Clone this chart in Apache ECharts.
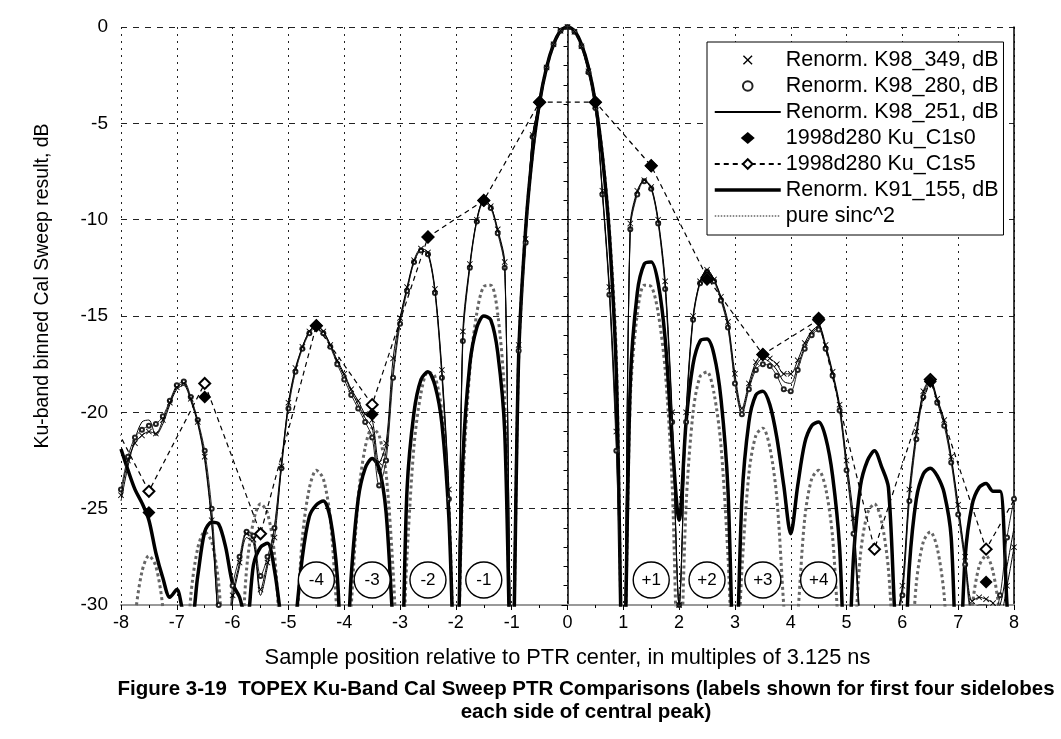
<!DOCTYPE html>
<html>
<head>
<meta charset="utf-8">
<script src="https://cdn.jsdelivr.net/npm/echarts@6/dist/echarts.min.js"></script>
<style>
  html, body { margin: 0; padding: 0; background: #fff; }
  #chart { width: 1061px; height: 739px; }
</style>
</head>
<body>
<div id="chart"></div>
<script>
// sample grid: -8 .. 8 in steps of 1/8 sample (129 points)
var xs = [];
for (var i = 0; i <= 128; i++) xs.push(-8 + i * 0.125);

// one row per sample unit, 8 values each, last value is x = 8
var k98_349 = [
  -24.3, -22.5, -21.6, -21.2, -21.0, -21.1, -20.4, -19.5,
  -18.7, -18.5, -19.3, -20.5, -22.3, -25.6, -31, -34,
  -29.5, -27.8, -26.3, -26.6, -29.2, -27.8, -26.5, -22.8,
  -19.5, -17.7, -16.6, -15.8, -15.5, -15.8, -16.5, -17.3,
  -18.0, -18.8, -19.4, -20.1, -20.4, -22.6, -21.6, -17.2,
  -15.1, -13.5, -12.1, -11.5, -11.7, -13.6, -17.8, -24.0,
  -35, -15.8, -12.3, -10.0, -9.0, -9.3, -10.5, -12.2,
  -33, -16.5, -11.0, -5.6, -3.9, -2.1, -0.9, -0.2,
  0, -0.25, -1.0, -2.3, -4.1, -8.5, -13.5, -21,
  -33, -10.2, -8.5, -7.95, -8.3, -10.0, -13.2, -20.0,
  -30, -20.0, -15.0, -13.2, -12.6, -13.1, -14.0, -15.3,
  -18.0, -19.8, -18.5, -17.4, -17.0, -17.2, -17.5, -18.0,
  -18.0, -17.3, -16.4, -15.8, -15.5, -16.5, -17.9, -19.6,
  -22.5, -25.5, -31, -34, -35, -34, -33, -31,
  -29, -24.0, -21.0, -18.9, -18.3, -19.3, -20.4, -22.3,
  -24.8, -27.5, -29.8, -29.6, -29.7, -29.9, -30.5, -29.0,
  -27.0
];
var k98_280 = [
  -24.0, -22.3, -21.3, -20.9, -20.7, -20.6, -20.2, -19.4,
  -18.6, -18.4, -19.2, -20.4, -22.0, -25.0, -30, -33,
  -29, -27.5, -26.2, -26.4, -28.5, -27.5, -26.0, -22.9,
  -19.8, -17.9, -16.7, -15.9, -15.6, -15.9, -16.6, -17.5,
  -18.3, -19.1, -19.8, -20.5, -21.3, -23.8, -22.5, -18.2,
  -15.4, -13.7, -12.2, -11.6, -11.8, -13.8, -18.2, -24.5,
  -35, -16.3, -12.5, -10.1, -9.1, -9.4, -10.7, -12.5,
  -33, -16.8, -11.2, -5.7, -3.95, -2.1, -0.9, -0.2,
  0, -0.25, -1.0, -2.35, -4.2, -8.7, -13.9, -22,
  -33, -10.5, -8.7, -8.0, -8.4, -10.2, -13.6, -20.5,
  -30, -20.5, -15.2, -13.3, -12.7, -13.2, -14.2, -15.6,
  -18.5, -20.1, -18.8, -17.8, -17.5, -17.6, -18.1, -18.8,
  -18.9, -17.8, -16.7, -16.0, -15.7, -16.7, -18.1, -19.9,
  -23.0, -26.3, -31.5, -34, -35, -34, -33, -31,
  -29.5, -24.6, -21.4, -19.2, -18.5, -19.5, -20.7, -22.6,
  -25.3, -27.9, -30.5, -30.5, -30.3, -30.5, -29.5, -26.5,
  -24.5
];
var k98_251 = [
  -24.6, -22.8, -21.4, -20.5, -20.4, -21.2, -20.6, -19.6,
  -18.8, -18.6, -19.4, -20.6, -22.5, -25.8, -31, -34,
  -29.8, -28.0, -26.5, -26.8, -29.5, -28.0, -25.9, -22.6,
  -19.6, -17.8, -16.6, -15.8, -15.5, -15.8, -16.5, -17.4,
  -18.1, -18.9, -19.6, -20.3, -20.8, -23.2, -22.0, -17.9,
  -15.2, -13.6, -12.2, -11.6, -11.8, -13.7, -18.0, -24.2,
  -35, -16.1, -12.4, -10.0, -9.0, -9.3, -10.6, -12.4,
  -33, -16.6, -11.1, -5.65, -3.9, -2.1, -0.9, -0.2,
  0, -0.25, -1.0, -2.3, -4.15, -8.6, -13.7, -21.5,
  -33, -10.4, -8.6, -7.95, -8.35, -10.1, -13.4, -20.3,
  -30, -20.2, -15.1, -13.2, -12.6, -13.1, -14.1, -15.5,
  -18.3, -20.0, -18.7, -17.6, -17.2, -17.4, -17.8, -18.4,
  -18.5, -17.6, -16.6, -15.9, -15.6, -16.6, -18.0, -19.8,
  -22.8, -26.0, -31.2, -34, -35, -34, -33, -31,
  -29.2, -24.3, -21.2, -19.0, -18.4, -19.4, -20.5, -22.4,
  -25.0, -27.7, -30.2, -30.0, -30.0, -30.2, -30.0, -28.0,
  -26.0
];
var k91_155 = [
  -21.9, -23.0, -24.0, -24.7, -25.6, -27.3, -28.6, -29.6,
  -29.2, -30.5, -31, -28.5, -26.2, -25.7, -25.8, -27.0,
  -28.9, -29.6, -31, -27.9, -27.0, -26.8, -28.2, -31,
  -35, -31, -27.5, -25.4, -24.8, -24.6, -25.5, -28.5,
  -35, -28.5, -24.5, -22.9, -22.4, -22.9, -25.2, -31,
  -35, -24.0, -20.0, -18.3, -17.9, -18.6, -20.6, -25.5,
  -35, -22.5, -17.5, -15.6, -15.0, -15.2, -16.9, -21.0,
  -35, -17.1, -10.5, -6.5, -3.9, -2.1, -0.9, -0.2,
  0, -0.2, -0.9, -2.1, -3.95, -6.7, -10.8, -18.0,
  -35, -18.5, -13.8, -12.3, -12.2, -13.3, -16.2, -21.5,
  -25.6, -20.5, -17.5, -16.3, -16.2, -17.0, -19.3, -24.0,
  -35, -24.5, -20.5, -19.1, -18.9, -19.6, -21.3, -23.8,
  -26.3, -23.8, -21.6, -20.7, -20.5, -21.3, -23.3, -27.0,
  -35, -27.5, -23.8, -22.5, -22.0, -22.8, -23.9, -31,
  -35, -28.0, -24.5, -23.2, -22.9, -23.3, -24.2, -26.5,
  -35, -27.5, -24.8, -23.9, -23.7, -24.1, -24.1, -30,
  -35
];
var sinc2 = [
  -35, -36.2, -30.74, -28.28, -27.44, -27.99, -30.16, -35.3,
  -35, -35.0, -29.54, -27.05, -26.20, -26.72, -28.87, -34.03,
  -35, -33.67, -28.15, -25.63, -24.75, -25.24, -27.36, -32.48,
  -35, -32.05, -26.49, -23.93, -23.01, -23.45, -25.52, -30.59,
  -35, -30.05, -24.43, -21.82, -20.82, -21.20, -23.19, -28.18,
  -35, -27.46, -21.74, -19.01, -17.90, -18.14, -20.00, -24.83,
  -35, -23.75, -17.81, -14.85, -13.47, -13.40, -14.89, -19.31,
  -35, -17.13, -10.46, -6.55, -3.92, -2.11, -0.91, -0.22,
  0, -0.22, -0.91, -2.11, -3.92, -6.55, -10.46, -17.13,
  -35, -19.31, -14.89, -13.40, -13.47, -14.85, -17.81, -23.75,
  -35, -24.83, -20.00, -18.14, -17.90, -19.01, -21.74, -27.46,
  -35, -28.18, -23.19, -21.20, -20.82, -21.82, -24.43, -30.05,
  -35, -30.59, -25.52, -23.45, -23.01, -23.93, -26.49, -32.05,
  -35, -32.48, -27.36, -25.24, -24.75, -25.63, -28.15, -33.67,
  -35, -34.03, -28.87, -26.72, -26.20, -27.05, -29.54, -35.0,
  -35, -35.3, -30.16, -27.99, -27.44, -28.28, -30.74, -36.2,
  -35
];

// Cal sweep bins at half-sample positions
var binX = [-7.5, -6.5, -5.5, -4.5, -3.5, -2.5, -1.5, -0.5, 0.5, 1.5, 2.5, 3.5, 4.5, 5.5, 6.5, 7.5];
var c1s0 = [-25.2, -19.2, -31, -15.5, -20.1, -10.9, -9.0, -3.9, -3.9, -7.2, -13.1, -17.0, -15.1, -31, -18.4, -28.8];
var c1s5X = [-8.5, -7.5, -6.5, -5.5, -4.5, -3.5, -2.5, -1.5, -0.5, 0.5, 1.5, 2.5, 3.5, 4.5, 5.5, 6.5, 7.5, 8.5];
var c1s5 = [-18.5, -24.1, -18.5, -26.3, -15.5, -19.6, -10.9, -9.0, -3.9, -3.9, -7.2, -13.0, -17.0, -15.2, -27.1, -18.3, -27.1, -22];

// sidelobe tags
var lobeX = [-4.5, -3.5, -2.5, -1.5, 1.5, 2.5, 3.5, 4.5];
var lobeY = [-28.7, -28.7, -28.7, -28.7, -28.7, -28.7, -28.7, -28.7];
var lobeText = ['-4', '-3', '-2', '-1', '+1', '+2', '+3', '+4'];

var yTicks = ['0', '-5', '-10', '-15', '-20', '-25', '-30'];

function pairs(px, py) {
  return py.map(function (y, i) { return [px[i], y]; });
}

var FONT = '"Liberation Sans", Arial, sans-serif';
var xMark = 'path://M0,1L1,0L5,4L9,0L10,1L6,5L10,9L9,10L5,6L1,10L0,9L4,5Z';
// diamond centred in the 66x12 legend box, the two moves only set the bounds
var legendDiamond = 'path://M0,0M66,12M33,0L40,6L33,12L26,6Z';

var chart = echarts.init(document.getElementById('chart'));
chart.setOption({
  animation: false,
  backgroundColor: '#fff',
  textStyle: { fontFamily: FONT, color: '#000' },
  grid: { left: 121, right: 47, top: 27, bottom: 134 },
  legend: {
    orient: 'vertical',
    left: 707,
    top: 42,
    width: 298,
    itemWidth: 66,
    itemHeight: 12,
    itemGap: 4,
    padding: [7, 5, 8, 6],
    backgroundColor: '#fff',
    borderColor: '#000',
    borderWidth: 1,
    textStyle: { fontSize: 21.5, fontFamily: FONT, color: '#000' },
    data: [
      { name: 'Renorm. K98_349, dB', lineStyle: { opacity: 0 } },
      { name: 'Renorm. K98_280, dB', lineStyle: { opacity: 0 } },
      { name: 'Renorm. K98_251, dB', itemStyle: { opacity: 0 } },
      { name: '1998d280 Ku_C1s0', icon: legendDiamond },
      { name: '1998d280 Ku_C1s5' },
      { name: 'Renorm. K91_155, dB', itemStyle: { opacity: 0 }, lineStyle: { width: 3.5 } },
      { name: 'pure sinc^2', itemStyle: { opacity: 0 }, lineStyle: { width: 1.5 } }
    ]
  },
  xAxis: {
    type: 'value',
    min: -8, max: 8, interval: 1,
    name: 'Sample position relative to PTR center, in multiples of 3.125 ns',
    nameLocation: 'middle',
    nameGap: 42,
    nameTextStyle: { fontSize: 21.8, fontFamily: FONT, color: '#000' },
    axisLine: { onZero: false, lineStyle: { color: '#999', width: 2 } },
    axisTick: { show: true, length: 5, lineStyle: { color: '#000' } },
    minorTick: { show: true, splitNumber: 2, length: 3, lineStyle: { color: '#000' } },
    axisLabel: { fontSize: 18, color: '#000', margin: 9 },
    splitLine: { show: true, lineStyle: { color: '#222', type: [2, 5], width: 1 } }
  },
  yAxis: [{
    type: 'value',
    min: -30, max: 0, interval: 5,
    axisLine: { show: true, lineStyle: { color: '#000', width: 1.5 } },
    axisTick: { show: true, inside: false, length: 6, lineStyle: { color: '#000' } },
    minorTick: { show: true, splitNumber: 5, length: 4, lineStyle: { color: '#000' } },
    axisLabel: {
      fontSize: 19, color: '#000', margin: 13,
      formatter: function (v) { return yTicks[Math.round(-v / 5)]; }
    },
    splitLine: { show: true, lineStyle: { color: '#222', type: [6, 6], width: 1 } }
  }, {
    type: 'value',
    position: 'right',
    min: -30, max: 0, interval: 5,
    axisLine: { show: true, lineStyle: { color: '#000', width: 1.5 } },
    axisTick: { show: false },
    axisLabel: { show: false },
    splitLine: { show: false }
  }],
  graphic: [
    {
      type: 'text', x: 43, y: 286, rotation: Math.PI / 2,
      style: { text: 'Ku-band binned Cal Sweep result, dB', font: '19.5px ' + FONT, fill: '#000', textAlign: 'center', textVerticalAlign: 'middle' }
    },
    {
      type: 'text', x: 586, y: 689,
      style: { text: 'Figure 3-19  TOPEX Ku-Band Cal Sweep PTR Comparisons (labels shown for first four sidelobes', font: 'bold 20.5px ' + FONT, fill: '#000', textAlign: 'center', textVerticalAlign: 'middle' }
    },
    {
      type: 'text', x: 586, y: 712,
      style: { text: 'each side of central peak)', font: 'bold 20.5px ' + FONT, fill: '#000', textAlign: 'center', textVerticalAlign: 'middle' }
    }
  ],
  series: [
    {
      name: 'pure sinc^2', type: 'line', data: pairs(xs, sinc2),
      symbol: 'none', smooth: 0.3, z: 1,
      lineStyle: { color: '#666', width: 3, type: 'dotted' }, itemStyle: { color: '#666' }
    },
    {
      name: 'Renorm. K91_155, dB', type: 'line', data: pairs(xs, k91_155),
      symbol: 'none', smooth: 0.3, z: 2,
      lineStyle: { color: '#000', width: 3.5 }, itemStyle: { color: '#000' }
    },
    {
      name: 'Renorm. K98_251, dB', type: 'line', data: pairs(xs, k98_251),
      symbol: 'none', smooth: 0.3, z: 3,
      lineStyle: { color: '#000', width: 1 }, itemStyle: { color: '#000' }
    },
    {
      name: 'Renorm. K98_280, dB', type: 'line', data: pairs(xs, k98_280),
      symbol: 'emptyCircle', symbolSize: 4, showAllSymbol: true, smooth: 0.3, z: 4,
      lineStyle: { color: '#222', width: 1 }, itemStyle: { color: '#222', borderWidth: 1 }
    },
    {
      name: 'Renorm. K98_349, dB', type: 'line', data: pairs(xs, k98_349),
      symbol: xMark, symbolSize: 6, showAllSymbol: true, smooth: 0.3, z: 5,
      lineStyle: { color: '#000', width: 1 }, itemStyle: { color: '#000' }
    },
    {
      name: '1998d280 Ku_C1s5', type: 'line', data: pairs(c1s5X, c1s5),
      symbol: 'emptyDiamond', symbolSize: 11, showAllSymbol: true, z: 6,
      lineStyle: { color: '#000', width: 1.2, type: [5, 4] }, itemStyle: { color: '#000', borderWidth: 1.2 }
    },
    {
      name: '1998d280 Ku_C1s0', type: 'scatter', data: pairs(binX, c1s0),
      symbol: 'diamond', symbolSize: 13, z: 7, clip: true,
      itemStyle: { color: '#000', opacity: 1 }
    },
    {
      name: 'lobes', type: 'scatter', data: pairs(lobeX, lobeY),
      symbol: 'circle', symbolSize: 36, z: 8, silent: true,
      itemStyle: { color: '#fff', borderColor: '#000', borderWidth: 1.4, opacity: 1 },
      label: {
        show: true, position: 'inside', fontSize: 17, fontFamily: FONT, color: '#000',
        formatter: function (p) { return lobeText[p.dataIndex]; }
      }
    }
  ]
});
</script>
</body>
</html>
